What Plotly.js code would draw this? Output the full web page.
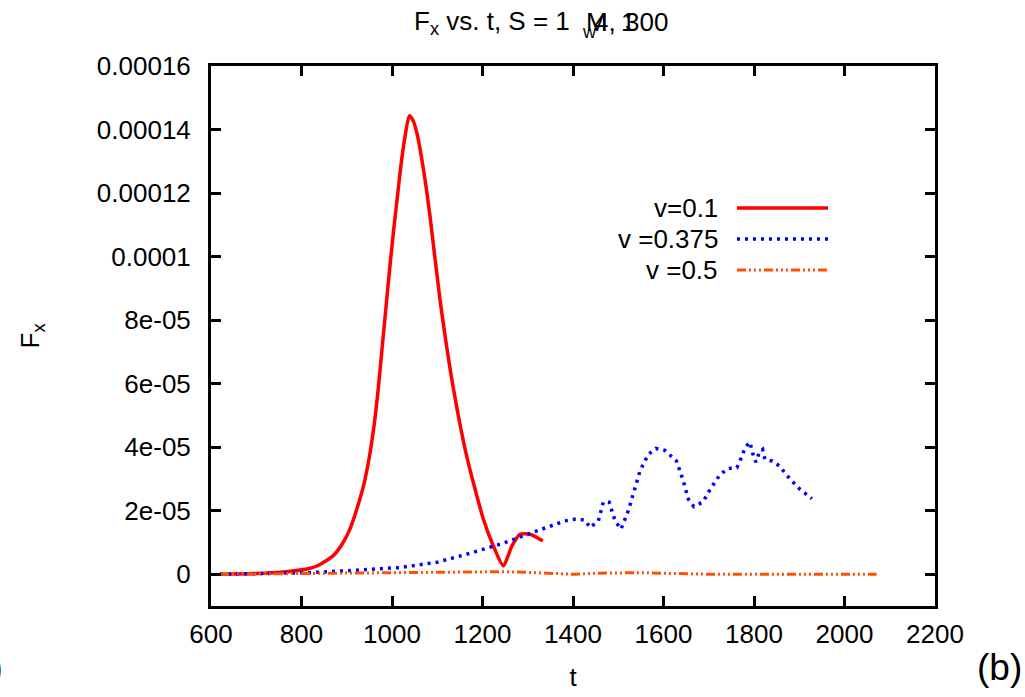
<!DOCTYPE html>
<html>
<head>
<meta charset="utf-8">
<script src="https://cdn.plot.ly/plotly-3.0.1.min.js"></script>
<style>html,body{margin:0;padding:0;background:#fff;}#chart{width:1025px;height:697px;}</style>
</head>
<body>
<div id="chart"></div>
<script>
// ---- data ----
const tRed = [620, 700, 760, 819, 840, 870, 890, 907, 920, 937, 950, 961, 970, 978, 986, 994, 1003, 1012, 1020, 1029, 1038, 1046, 1055, 1070, 1084, 1106, 1136, 1165, 1202, 1224, 1246, 1265, 1283, 1305, 1333];
const fRed = [0, 0.02e-5, 0.07e-5, 0.19e-5, 0.3e-5, 0.58e-5, 0.95e-5, 1.42e-5, 1.95e-5, 2.78e-5, 3.7e-5, 4.75e-5, 5.9e-5, 7.1e-5, 8.3e-5, 9.5e-5, 10.75e-5, 11.9e-5, 12.9e-5, 13.8e-5, 14.43e-5, 14.3e-5, 13.89e-5, 12.7e-5, 11.27e-5, 8.65e-5, 5.82e-5, 3.72e-5, 1.73e-5, 0.89e-5, 0.26e-5, 0.89e-5, 1.26e-5, 1.26e-5, 1.05e-5];

const tBlue = [620, 700, 819, 900, 1018, 1100, 1165, 1240, 1312, 1349, 1382, 1404, 1426, 1438, 1456, 1467, 1480, 1493, 1506, 1522, 1537, 1548, 1566, 1583, 1603, 1629, 1644, 1655, 1667, 1687, 1703, 1725, 1743, 1762, 1772, 1780, 1791, 1797, 1804, 1812, 1819, 1824, 1841, 1856, 1880, 1902, 1928];
const fBlue = [0, 0.02e-5, 0.05e-5, 0.11e-5, 0.21e-5, 0.38e-5, 0.63e-5, 0.95e-5, 1.31e-5, 1.52e-5, 1.68e-5, 1.73e-5, 1.71e-5, 1.47e-5, 1.68e-5, 2.27e-5, 2.27e-5, 1.68e-5, 1.42e-5, 1.99e-5, 2.67e-5, 3.25e-5, 3.77e-5, 3.96e-5, 3.9e-5, 3.56e-5, 2.93e-5, 2.36e-5, 2.13e-5, 2.27e-5, 2.67e-5, 3.14e-5, 3.33e-5, 3.35e-5, 3.67e-5, 3.98e-5, 4.16e-5, 3.81e-5, 3.53e-5, 3.85e-5, 3.93e-5, 3.62e-5, 3.56e-5, 3.41e-5, 2.99e-5, 2.67e-5, 2.38e-5];

const tOrange = [620, 700, 800, 900, 1000, 1100, 1200, 1250, 1300, 1350, 1400, 1450, 1500, 1550, 1600, 1650, 1700, 1800, 1900, 2000, 2071];
const fOrange = [0, 0.01e-5, 0.02e-5, 0.04e-5, 0.05e-5, 0.06e-5, 0.07e-5, 0.08e-5, 0.06e-5, 0.04e-5, 0.0, 0.03e-5, 0.05e-5, 0.05e-5, 0.03e-5, 0.01e-5, 0.0, 0.0, 0.0, 0.0, 0.0];

const seriesNames = ['v=0.1', 'v =0.375', 'v =0.5'];
const xTicks = [600, 800, 1000, 1200, 1400, 1600, 1800, 2000, 2200];
const yTickVals = [0, 2e-5, 4e-5, 6e-5, 8e-5, 1e-4, 1.2e-4, 1.4e-4, 1.6e-4];
const yTickText = ['0', '2e-05', '4e-05', '6e-05', '8e-05', '0.0001', '0.00012', '0.00014', '0.00016'];

// ---- styling ----
const colors = ['#ff0000', '#0000ff', '#ff5000'];
const dashes = ['solid', '3px,5px', '9px,3px,2px,3px,2px,3px,2px,3px'];
const widths = [3.5, 3.5, 3];
const FONT = 'Liberation Sans, Arial, sans-serif';
const TS = 26;

const xs = [tRed, tBlue, tOrange];
const ys = [fRed, fBlue, fOrange];
const traces = xs.map((x, i) => ({
  x: x, y: ys[i], type: 'scatter', mode: 'lines', name: seriesNames[i],
  line: {color: colors[i], width: widths[i], dash: dashes[i], shape: i === 0 ? 'spline' : 'linear', smoothing: 0.6},
  showlegend: false, hoverinfo: 'skip'
}));

const px = (x) => (x - 211) / 724;
const py = (y) => (606 - y) / 540;

// custom legend (gnuplot style: text left, sample right)
const legY = [208, 239, 270];
const shapes = [];
const annotations = [];
seriesNames.forEach((n, i) => {
  shapes.push({type: 'line', xref: 'paper', yref: 'paper', x0: px(737), x1: px(828), y0: py(legY[i]), y1: py(legY[i]),
    line: {color: colors[i], width: widths[i], dash: dashes[i]}});
  annotations.push({xref: 'paper', yref: 'paper', x: px(720), y: py(legY[i]), xanchor: 'right', yanchor: 'middle',
    text: n, showarrow: false, font: {family: FONT, size: 26, color: '#000'}});
});
// title, drawn in overlapping pieces as in the reference
const titleParts = [
  {text: 'F<sub>x</sub> vs. t, S = 1', x: 413, y: 22, s: TS},
  {text: 'w', x: 581, y: 32, s: 18},
  {text: 'M', x: 585, y: 22, s: TS},
  {text: '4, ', x: 593, y: 22, s: TS},
  {text: '1', x: 620, y: 22, s: TS},
  {text: '300', x: 624, y: 22, s: TS}
];
titleParts.forEach(p => annotations.push({xref: 'paper', yref: 'paper', x: px(p.x), y: py(p.y), xanchor: 'left', yanchor: 'middle',
  text: p.text, showarrow: false, borderpad: 0, font: {family: FONT, size: p.s, color: '#000'}}));
// panel labels
annotations.push({xref: 'paper', yref: 'paper', x: px(1024), y: py(668), xanchor: 'right', yanchor: 'middle',
  text: '(b)', showarrow: false, font: {family: FONT, size: 37, color: '#000'}});
annotations.push({xref: 'paper', yref: 'paper', x: px(5), y: py(668), xanchor: 'right', yanchor: 'middle',
  text: 'a)', showarrow: false, font: {family: FONT, size: 37, color: '#000'}});

const axisCommon = {
  showgrid: false, zeroline: false, showline: true, linecolor: '#000', linewidth: 3,
  mirror: 'allticks', ticks: 'inside', ticklen: 10, tickwidth: 3, tickcolor: '#000',
  tickfont: {family: FONT, size: 26, color: '#000'}
};

const layout = {
  width: 1025, height: 697,
  margin: {l: 211, r: 90, t: 66, b: 91},
  paper_bgcolor: '#fff', plot_bgcolor: '#fff',
  xaxis: Object.assign({}, axisCommon, {
    range: [600, 2200], tickvals: xTicks, ticktext: xTicks.map(String), ticklabelstandoff: 3,
    title: {text: 't', font: {family: FONT, size: 26, color: '#000'}, standoff: 20}
  }),
  yaxis: Object.assign({}, axisCommon, {
    range: [-1e-5, 1.6e-4], tickvals: yTickVals, ticktext: yTickText, ticklabelstandoff: 12,
    title: {text: 'F<sub>x</sub>', font: {family: FONT, size: 26, color: '#000'}, standoff: 50}
  }),
  shapes: shapes,
  annotations: annotations
};

Plotly.newPlot('chart', traces, layout, {displayModeBar: false, staticPlot: true});
</script>
</body>
</html>
